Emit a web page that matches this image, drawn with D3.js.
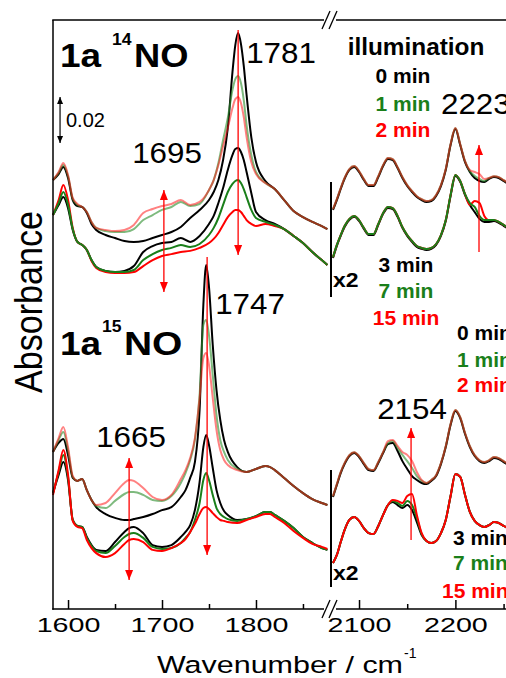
<!DOCTYPE html>
<html><head><meta charset="utf-8">
<script src="https://cdn.jsdelivr.net/npm/d3@7/dist/d3.min.js"></script>
<style>body{margin:0;background:#fff;}svg{display:block;font-family:"Liberation Sans",Arial,sans-serif;}</style>
</head><body><svg id="c" width="506" height="678"></svg>
<script>
// ---------- wavenumber grids (cm-1) ----------
const wn14L = [1584,1590,1595,1600,1605,1610,1615,1620,1625,1630,1640,1650,1660,1670,1680,1690,1700,1710,1720,1730,1740,1750,1755,1760,1765,1770,1775,1778,1781,1784,1787,1790,1795,1800,1810,1820,1830,1840,1850,1860,1870,1876];
const wn15L = [1584,1590,1595,1600,1605,1610,1615,1620,1625,1630,1640,1650,1660,1665,1670,1680,1690,1700,1710,1720,1725,1730,1735,1740,1744,1747,1750,1754,1758,1762,1766,1770,1780,1790,1800,1810,1815,1820,1830,1840,1850,1860,1870,1876];
const wnR = [2073,2077,2081,2085,2090,2095,2100,2105,2110,2115,2120,2125,2130,2135,2140,2145,2150,2155,2160,2165,2170,2175,2180,2185,2190,2195,2200,2205,2210,2215,2220,2225,2230,2235,2240,2245,2250,2255];

// ---------- absorbance (mAbs, offset) : 1a 14NO, 1580-1880 ----------
const n14L_0 = [186.5,189.1,192.2,187.4,177.8,175.2,174.8,172.2,167.4,164.8,162.6,161.3,160.0,159.6,160.0,161.3,162.6,163.9,166.1,170.0,173.5,177.8,181.3,186.5,195.2,209.1,233.5,245.2,250.4,245.7,236.1,223.5,205.2,194.3,186.1,182.6,177.8,173.0,170.4,168.3,166.5,165.2];
const n14L_1 = [186.5,189.6,193.0,188.3,178.3,175.7,174.8,172.6,168.3,165.7,164.3,163.9,163.9,165.2,169.1,171.3,173.5,174.8,177.0,175.2,176.1,182.2,186.5,193.9,203.9,213.5,225.7,230.4,231.7,228.7,221.3,210.4,197.4,190.0,185.2,182.6,177.8,173.0,170.4,168.3,166.5,165.2];
const n14L_2 = [186.5,190.0,193.9,188.7,178.7,176.1,174.8,172.6,168.3,165.7,164.8,164.3,164.8,167.0,172.2,173.9,175.2,176.1,177.8,175.7,177.0,182.2,186.5,193.0,201.3,209.1,217.8,221.7,222.6,220.0,213.9,205.2,194.3,189.1,185.2,182.6,177.8,173.0,170.4,168.3,166.5,165.2];
const n14L_3 = [171.3,175.7,179.1,174.3,164.8,159.6,158.3,156.1,151.7,148.7,147.0,146.5,147.0,149.1,155.2,157.8,159.1,159.6,161.3,159.6,162.2,167.4,170.9,176.5,183.0,190.9,197.4,200.0,200.4,198.7,195.2,190.0,180.9,172.6,169.1,167.4,165.2,162.2,159.1,155.2,151.7,149.6];
const n14L_7 = [171.3,176.5,181.3,175.7,165.2,159.6,158.3,156.1,151.7,148.7,147.0,146.5,146.5,147.4,151.7,154.3,156.1,157.0,158.3,157.4,158.7,162.6,165.7,170.0,175.7,181.3,184.8,186.1,186.5,185.2,182.6,179.1,173.5,170.0,168.3,167.0,165.2,162.2,159.1,155.2,151.7,149.6];
const n14L_15 = [171.3,177.8,184.3,177.8,165.7,159.6,158.3,156.1,151.3,148.3,146.5,146.1,146.1,146.5,149.1,151.7,153.5,154.3,155.2,155.7,157.0,159.1,160.9,163.5,167.0,170.4,172.6,173.5,173.5,172.6,170.9,169.1,167.4,166.5,167.4,166.5,165.2,162.2,159.1,155.2,151.7,149.6];

// ---------- 1a 14NO, 2070-2255 (x2) ----------
const n14R_0 = [173.5,177.8,182.6,187.0,190.9,192.2,190.0,186.5,183.9,183.9,187.8,192.6,195.7,195.2,191.7,187.4,183.9,181.3,179.1,177.8,177.0,177.4,179.6,183.9,190.9,201.7,208.7,201.7,194.3,190.0,187.4,186.1,185.7,187.0,187.8,187.4,186.1,184.8];
const n14R_1 = [173.9,178.2,183.0,187.4,191.3,192.6,190.4,186.9,184.3,184.3,188.2,193.0,196.1,195.6,192.1,187.8,184.3,181.7,179.5,178.2,177.4,177.8,180.0,184.3,191.3,202.1,209.1,202.1,194.7,190.4,188.3,187.0,186.1,187.4,188.2,187.8,186.5,185.2];
const n14R_2 = [173.9,178.2,183.0,187.4,191.3,192.6,190.4,186.9,184.3,184.3,188.2,193.0,196.1,195.6,192.1,187.8,184.3,181.7,179.5,178.2,177.4,177.8,180.0,184.3,191.3,202.1,209.1,202.1,194.7,190.9,190.0,189.1,187.0,187.4,188.2,187.8,186.5,185.2];
const n14R_3 = [152.6,157.9,162.2,166.1,169.2,170.5,168.7,165.3,162.6,162.6,167.0,171.8,174.4,173.9,170.5,165.7,162.2,159.6,157.4,156.6,156.1,156.6,158.3,162.2,168.7,179.6,188.3,185.7,180.0,175.7,172.6,169.6,168.3,168.3,168.7,167.9,166.6,165.3];
const n14R_7 = [153.0,158.3,162.6,166.5,169.6,170.9,169.1,165.7,163.0,163.0,167.4,172.2,174.8,174.3,170.9,166.1,162.6,160.0,157.8,157.0,156.5,157.0,158.7,162.6,169.1,180.0,188.7,186.1,180.4,176.5,174.8,170.9,169.1,169.1,169.1,168.3,167.0,165.7];
const n14R_15 = [153.0,158.3,162.6,166.5,169.6,170.9,169.1,165.7,163.0,163.0,167.4,172.2,174.8,174.3,170.9,166.1,162.6,160.0,157.8,157.0,156.5,157.0,158.7,162.6,169.1,180.0,188.7,186.1,180.4,175.7,177.4,176.5,170.9,169.1,169.1,168.3,167.0,165.7];

// ---------- 1a 15NO, 1580-1880 ----------
const n15L_0 = [68.3,72.2,73.9,67.0,57.0,55.7,56.5,51.7,47.4,44.3,41.3,39.6,38.7,38.7,39.1,40.0,41.3,43.0,44.3,48.7,51.7,57.0,63.9,86.5,132.2,149.6,140.0,114.8,95.2,82.2,73.5,68.3,61.7,59.6,60.9,62.2,61.7,60.4,57.0,53.5,50.4,47.8,46.1,45.2];
const n15L_1 = [68.3,73.5,77.0,69.1,57.4,55.7,56.5,51.7,47.4,44.8,43.9,47.0,50.0,50.9,50.9,49.6,47.4,47.0,49.1,54.8,59.1,64.8,73.5,93.0,123.5,125.7,119.1,101.7,84.3,73.5,68.3,64.8,60.9,59.6,60.9,62.2,61.7,60.4,57.0,53.5,50.4,47.8,46.1,45.2];
const n15L_2 = [68.3,74.3,79.1,70.4,57.8,55.7,56.5,51.7,47.4,45.2,46.1,50.4,54.8,56.1,55.7,52.6,48.7,47.4,49.6,56.5,60.4,65.7,74.3,91.7,109.1,111.3,106.1,91.7,77.8,69.1,64.8,62.6,60.4,59.6,60.9,62.2,61.7,60.4,57.0,53.5,50.4,47.8,46.1,45.2];
const n15L_3 = [50.4,58.3,63.9,56.1,38.7,36.1,35.7,31.3,27.8,25.7,25.2,29.1,33.5,35.2,35.7,33.0,27.8,27.0,27.8,31.3,33.5,36.5,43.0,55.2,70.4,75.7,71.3,61.3,51.7,46.1,42.6,40.9,38.7,39.1,40.4,42.2,42.2,40.9,38.3,35.2,31.3,28.7,26.5,25.7];
const n15L_7 = [50.4,59.6,67.0,57.4,38.7,36.1,35.7,30.9,27.4,25.2,24.3,27.4,31.3,32.6,33.0,30.9,27.0,26.1,26.5,28.7,30.9,33.5,38.7,46.1,56.1,59.1,56.1,49.6,43.9,41.3,40.0,39.1,38.3,39.1,40.4,42.2,42.2,40.9,38.3,35.2,31.3,28.7,26.5,25.7];
const n15L_15 = [49.6,60.4,69.1,58.3,38.3,35.7,35.2,30.0,26.5,24.3,22.6,24.3,28.3,30.0,30.4,29.1,25.7,25.2,26.5,28.7,30.4,33.5,37.0,41.3,43.9,44.3,43.5,41.7,40.0,38.7,38.3,37.8,37.4,38.7,40.0,41.3,41.3,40.0,37.4,33.9,30.9,28.3,27.0,26.1];

// ---------- 1a 15NO, 2070-2255 (x2) ----------
const n15R_0 = [48.7,53.9,59.1,63.0,66.5,67.8,66.1,63.0,60.4,60.0,63.5,67.8,71.7,72.2,68.7,64.3,60.9,57.8,56.1,54.8,54.3,55.7,57.8,63.0,70.4,80.0,86.1,83.0,76.1,70.4,66.5,64.3,63.5,64.3,65.7,65.2,63.9,62.6];
const n15R_1 = [49.1,54.3,59.5,63.4,66.9,68.2,66.5,63.4,60.8,60.4,63.9,68.2,72.1,73.0,70.0,67.0,64.3,61.3,57.8,55.7,54.8,56.1,58.2,63.4,70.8,80.4,86.5,83.4,76.5,70.8,66.9,64.7,63.9,64.7,66.1,65.6,64.3,63.0];
const n15R_2 = [49.1,54.3,59.5,63.4,66.9,68.2,66.5,63.4,60.8,60.4,63.9,68.2,73.0,73.5,70.9,68.3,67.0,64.3,59.6,56.1,54.8,56.1,58.2,63.4,70.8,80.4,86.5,83.4,76.5,70.8,66.9,64.7,63.9,64.7,66.1,65.6,64.3,63.0];
const n15R_3 = [20.0,23.5,29.1,34.3,38.7,40.0,38.3,35.2,33.0,32.6,36.1,40.9,45.2,46.5,45.2,43.9,45.2,43.0,37.8,32.2,29.6,28.7,29.6,33.0,38.7,49.1,58.7,57.4,49.6,42.2,38.3,36.5,35.7,36.5,37.8,37.4,36.1,35.2];
const n15R_7 = [20.0,23.5,29.1,34.3,38.7,40.0,38.3,35.2,33.0,32.6,36.1,40.9,45.2,47.0,46.1,44.8,47.0,45.2,39.6,32.6,29.6,28.7,29.6,33.0,38.7,49.1,58.7,57.4,49.6,42.2,38.3,36.5,35.7,36.5,37.8,37.4,36.1,35.2];
const n15R_15 = [20.0,23.5,29.1,34.3,38.7,40.0,38.3,35.2,33.0,32.6,36.1,40.9,45.2,47.4,47.0,46.1,49.1,50.0,40.9,33.0,29.6,28.7,29.6,33.0,38.7,49.1,58.7,57.4,49.6,42.2,38.3,36.5,35.7,36.5,37.8,37.4,36.1,35.2];

// ---------- axis ticks and labels ----------
const ticksLMajor = [1600,1700,1800];
const ticksLMinor = [1650,1750,1850];
const ticksRMajor = [2100,2200];
const ticksRMinor = [2150,2250];
const minutesA = ["0 min","1 min","2 min"];
const minutesB = ["3 min","7 min","15 min"];

// ---------- peak arrows (wavenumber, from, to in mAbs) ----------
const arrowWn   = [1781, 1702, 2224.5, 1748, 1665, 2154];
const arrowSide = ["L","L","R","L","L","R"];
const arrowFrom = [251.7, 160.0, 155.2, 153.0, 39.0, 30.0];
const arrowTo   = [153.9, 182.2, 201.7, 23.5, 65.7, 78.7];
const arrowBoth = [false, true, false, false, true, false];
const arrowAlt  = [null, 137.8, null, null, 12.6, null];
const scaleBar = [202.6, 222.6]; // 0.02 Abs = 20 mAbs

// ---------- drawing ----------
const svg = d3.select("#c");
const xL = d3.scaleLinear().domain([1584, 1876]).range([53, 327.4]);
const xR = d3.scaleLinear().domain([2073, 2255]).range([333, 508.4]);
const y  = d3.scaleLinear().domain([0, 256.087]).range([609, 20]);

const cBlack = "#000", cGreen = "#1a7f1a", cRed = "#ff0000";
const styleA = [ {c:"#000", o:1}, {c:"#2e8f2e", o:0.62}, {c:"#ff1a1a", o:0.55} ];
const styleB = [ {c:cBlack, o:1}, {c:cGreen, o:1}, {c:cRed, o:1} ];

function drawSet(wn, xs, arrs, styles, order) {
  const line = d3.line().x((d,i)=>xs(wn[i])).y(d=>y(d)).curve(d3.curveMonotoneX);
  order.forEach(k => {
    svg.append("path").attr("d", line(arrs[k])).attr("fill","none")
      .attr("stroke", styles[k].c).attr("stroke-opacity", styles[k].o)
      .attr("stroke-width", 2).attr("stroke-linejoin","round");
  });
}
// 14NO
drawSet(wn14L, xL, [n14L_0,n14L_1,n14L_2], styleA, [0,1,2]);
drawSet(wn14L, xL, [n14L_3,n14L_7,n14L_15], styleB, [0,2,1]);
drawSet(wnR, xR, [n14R_0,n14R_1,n14R_2], styleA, [0,1,2]);
drawSet(wnR, xR, [n14R_3,n14R_7,n14R_15], styleB, [0,2,1]);
// 15NO
drawSet(wn15L, xL, [n15L_0,n15L_1,n15L_2], styleA, [0,1,2]);
drawSet(wn15L, xL, [n15L_3,n15L_7,n15L_15], styleB, [0,1,2]);
drawSet(wnR, xR, [n15R_0,n15R_1,n15R_2], styleA, [0,1,2]);
drawSet(wnR, xR, [n15R_3,n15R_7,n15R_15], styleB, [0,1,2]);

// frame
const fr = svg.append("g").attr("stroke","#000").attr("stroke-width",1.5).attr("fill","none");
fr.append("line").attr("x1",53).attr("x2",53).attr("y1",20).attr("y2",609.75);
fr.append("line").attr("x1",52.25).attr("x2",324).attr("y1",20).attr("y2",20);
fr.append("line").attr("x1",336).attr("x2",506).attr("y1",20).attr("y2",20);
fr.append("line").attr("x1",52.25).attr("x2",324).attr("y1",609).attr("y2",609);
fr.append("line").attr("x1",336).attr("x2",506).attr("y1",609).attr("y2",609);
[20,609].forEach(yy => {
  [326,333].forEach(xx => {
    fr.append("line").attr("x1",xx-4).attr("y1",yy+9).attr("x2",xx+4).attr("y2",yy-9).attr("stroke-width",1.3);
  });
});

// axes ticks (inside)
function axis(scale, vals, size, labels) {
  const ax = d3.axisBottom(scale).tickValues(vals).tickSize(-size).tickFormat(labels ? d3.format("d") : "");
  const g = svg.append("g").attr("transform","translate(0,609)").call(ax);
  g.select(".domain").remove();
  g.selectAll(".tick line").attr("stroke-width",1.5);
  g.selectAll(".tick text").attr("y",23).attr("dy",0).attr("font-size",20.5)
    .attr("font-family","Liberation Sans, Arial, sans-serif").attr("fill","#000")
    .attr("transform","scale(1.4,1)");
}
axis(xL, ticksLMajor, 9, true);
axis(xL, ticksLMinor, 5, false);
axis(xR, ticksRMajor, 9, true);
axis(xR, ticksRMinor, 5, false);

// text helper
function txt(x, yy, s, o) {
  return svg.append("text").attr("transform", `translate(${x},${yy}) scale(${o.sx||1},1)`)
    .attr("font-size", o.size).attr("font-weight", o.bold ? "bold" : null)
    .attr("fill", o.fill || "#000").attr("text-anchor", o.anchor || "start").text(s);
}
// axis titles
txt(157, 673, "Wavenumber / cm", {size:24.5}).attr("textLength",246).attr("lengthAdjust","spacingAndGlyphs");
txt(404, 658, "-1", {size:14});
svg.append("text").attr("transform","translate(42,302) rotate(-90)").attr("font-size",38)
  .attr("text-anchor","middle").attr("textLength",182).attr("lengthAdjust","spacingAndGlyphs").text("Absorbance");

// panel titles
txt(60, 67, "1a", {size:33, bold:true, sx:1.12});
txt(112, 45, "14", {size:16, bold:true, sx:1.1});
txt(134, 67, "NO", {size:33, bold:true, sx:1.1});
txt(60, 355, "1a", {size:33, bold:true, sx:1.12});
txt(102, 332, "15", {size:16, bold:true, sx:1.1});
txt(124, 355, "NO", {size:33, bold:true, sx:1.18});

// peak labels
txt(281, 63, "1781", {size:29, sx:1.08, anchor:"middle"});
txt(167, 163, "1695", {size:29, sx:1.08, anchor:"middle"});
txt(250, 314, "1747", {size:29, sx:1.08, anchor:"middle"});
txt(131, 447, "1665", {size:29, sx:1.08, anchor:"middle"});
txt(441, 114, "2223", {size:29, sx:1.08});
txt(412, 419, "2154", {size:29, sx:1.08, anchor:"middle"});
txt(66, 127, "0.02", {size:20});

// legends
const legCol = [cBlack, cGreen, cRed];
txt(416, 55, "illumination", {size:23, bold:true, sx:1.06, anchor:"middle"});
minutesA.forEach((m,i) => txt(403, [83,111,137][i], m, {size:20, bold:true, fill:legCol[i], sx:1.05, anchor:"middle"}));
minutesB.forEach((m,i) => txt(406, [272,298,325][i], m, {size:20, bold:true, fill:legCol[i], sx:1.05, anchor:"middle"}));
minutesA.forEach((m,i) => txt(457, [340,367,392][i], m, {size:20, bold:true, fill:legCol[i], sx:1.05}));
minutesB.forEach((m,i) => txt([453,453,442][i], [545,570,598][i], m, {size:20, bold:true, fill:legCol[i], sx:1.05}));

// x2 bars
[[182,297,287],[470,587,580]].forEach(b => {
  svg.append("line").attr("x1",331).attr("x2",331).attr("y1",b[0]).attr("y2",b[1]).attr("stroke","#000").attr("stroke-width",2);
  txt(333, b[2], "x2", {size:20, bold:true, sx:1.15});
});

// arrows
function head(x, yTip, dir, col, L, W) {
  svg.append("path").attr("d", `M${x},${yTip} L${x-W},${yTip-dir*L} L${x+W},${yTip-dir*L} Z`).attr("fill", col);
}
arrowWn.forEach((w,i) => {
  const xs = arrowSide[i] === "L" ? xL : xR;
  const x = xs(w);
  const yTo = y(arrowTo[i]);
  const yFrom = arrowBoth[i] ? y(arrowAlt[i]) : y(arrowFrom[i]);
  svg.append("line").attr("x1",x).attr("x2",x).attr("y1",yFrom).attr("y2",yTo).attr("stroke",cRed).attr("stroke-width",1.3);
  head(x, yTo, yTo > yFrom ? 1 : -1, cRed, 10, 4);
  if (arrowBoth[i]) head(x, yFrom, yFrom > yTo ? 1 : -1, cRed, 10, 4);
});
// scale bar
{
  const x = xL(1591.5), y1 = y(scaleBar[1]), y2 = y(scaleBar[0]);
  svg.append("line").attr("x1",x).attr("x2",x).attr("y1",y1).attr("y2",y2).attr("stroke","#000").attr("stroke-width",1.2);
  head(x, y1, -1, "#000", 7, 3);
  head(x, y2, 1, "#000", 7, 3);
}
</script></body></html>
